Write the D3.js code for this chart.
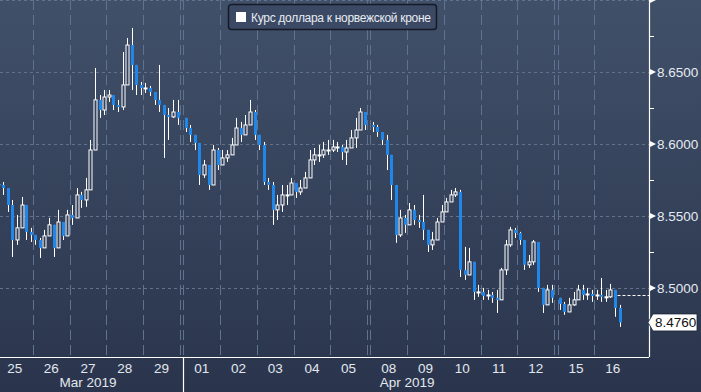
<!DOCTYPE html>
<html><head><meta charset="utf-8">
<script src="https://cdn.jsdelivr.net/npm/d3@7"></script>
<style>html,body{margin:0;padding:0;background:#2c3851;}svg{display:block;}</style>
</head><body>
<svg id="chart" width="701" height="392"></svg>
<script>
// ---------- data ----------
const dayLabels = ["25","26","27","28","29","01","02","03","04","05","08","09","10","11","12","15","16"];
const dayDates  = ["2019-03-25","2019-03-26","2019-03-27","2019-03-28","2019-03-29","2019-04-01","2019-04-02","2019-04-03","2019-04-04","2019-04-05","2019-04-08","2019-04-09","2019-04-10","2019-04-11","2019-04-12","2019-04-15","2019-04-16"];
const monthLabels = ["Mar 2019","Apr 2019"];
const seriesName = "Курс доллара к норвежской кроне";
const barsPerDay = 8;
const firstOpen = 8.5722;
const close = [
 8.5715,8.5694,8.5576,8.5333,8.5417,8.5576,8.5389,8.5368,
 8.5333,8.5278,8.5361,8.5438,8.5278,8.5458,8.5361,8.5507,
 8.5486,8.5646,8.5611,8.5681,8.5958,8.6306,8.6236,8.6326,
 8.6340,8.6271,8.6257,8.6410,8.6687,8.6549,8.6410,8.6389,
 8.6389,8.6361,8.6306,8.6271,8.6201,8.6188,8.6222,8.6181,
 8.6111,8.6063,8.6007,8.5785,8.5854,8.5715,8.5958,8.5854,
 8.5903,8.5924,8.5993,8.6111,8.6063,8.6132,8.6222,8.6063,
 8.5993,8.5736,8.5715,8.5542,8.5576,8.5646,8.5646,8.5729,
 8.5667,8.5694,8.5764,8.5889,8.5924,8.5924,8.5958,8.5958,
 8.5979,8.5979,8.5944,8.5972,8.6042,8.6097,8.6222,8.6132,
 8.6118,8.6083,8.6028,8.5924,8.5715,8.5368,8.5486,8.5438,
 8.5542,8.5472,8.5458,8.5403,8.5299,8.5333,8.5458,8.5528,
 8.5597,8.5646,8.5667,8.5125,8.5090,8.5181,8.4972,8.4972,
 8.4944,8.4951,8.4931,8.4917,8.5125,8.5299,8.5403,8.5382,
 8.5333,8.5160,8.5181,8.5319,8.5000,8.4882,8.4986,8.4931,
 8.4889,8.4833,8.4882,8.4917,8.4986,8.4951,8.4958,8.4944,
 8.4951,8.4938,8.4938,8.4986,8.4861,8.4760
];
const high = [
 8.5750,8.5736,8.5681,8.5611,8.5507,8.5632,8.5458,8.5417,
 8.5368,8.5347,8.5403,8.5486,8.5417,8.5542,8.5438,8.5542,
 8.5576,8.5694,8.5667,8.5764,8.6028,8.6528,8.6340,8.6375,
 8.6375,8.6326,8.6306,8.6639,8.6736,8.6806,8.6500,8.6431,
 8.6424,8.6403,8.6361,8.6549,8.6271,8.6250,8.6306,8.6306,
 8.6153,8.6132,8.6063,8.5972,8.5889,8.5819,8.5993,8.5972,
 8.5958,8.5958,8.6042,8.6181,8.6153,8.6201,8.6306,8.6236,
 8.6028,8.6014,8.5764,8.5736,8.5646,8.5715,8.5715,8.5764,
 8.5729,8.5750,8.5806,8.5958,8.5972,8.5993,8.6014,8.6028,
 8.6028,8.6014,8.5993,8.6028,8.6097,8.6181,8.6250,8.6201,
 8.6153,8.6132,8.6076,8.6063,8.5819,8.5507,8.5542,8.5507,
 8.5590,8.5576,8.5507,8.5646,8.5368,8.5389,8.5486,8.5576,
 8.5625,8.5681,8.5694,8.5681,8.5285,8.5278,8.5090,8.5021,
 8.5000,8.4986,8.4972,8.4986,8.5139,8.5333,8.5424,8.5417,
 8.5389,8.5333,8.5229,8.5333,8.5299,8.4986,8.5021,8.5021,
 8.4931,8.4903,8.4931,8.4972,8.5021,8.5021,8.5000,8.4986,
 8.4986,8.5069,8.4986,8.5028,8.4917,8.4882
];
const low = [
 8.5681,8.5646,8.5528,8.5215,8.5299,8.5417,8.5333,8.5319,
 8.5299,8.5208,8.5299,8.5368,8.5215,8.5299,8.5333,8.5389,
 8.5438,8.5542,8.5556,8.5563,8.5785,8.6063,8.6181,8.6201,
 8.6292,8.6236,8.6222,8.6236,8.6514,8.6375,8.6340,8.6340,
 8.6354,8.6333,8.6271,8.6222,8.5903,8.6028,8.6181,8.6132,
 8.6083,8.6014,8.5958,8.5715,8.5764,8.5681,8.5806,8.5819,
 8.5854,8.5875,8.5924,8.6028,8.6014,8.6063,8.6167,8.6028,
 8.5958,8.5715,8.5681,8.5438,8.5472,8.5528,8.5576,8.5667,
 8.5625,8.5646,8.5715,8.5833,8.5854,8.5875,8.5903,8.5924,
 8.5944,8.5944,8.5889,8.5854,8.5993,8.5972,8.6167,8.6097,
 8.6083,8.6049,8.5993,8.5819,8.5611,8.5313,8.5354,8.5382,
 8.5486,8.5438,8.5417,8.5333,8.5250,8.5264,8.5389,8.5486,
 8.5556,8.5611,8.5632,8.5076,8.5056,8.5090,8.4917,8.4938,
 8.4917,8.4917,8.4896,8.4826,8.4972,8.5090,8.5285,8.5347,
 8.5299,8.5125,8.5139,8.5160,8.4972,8.4826,8.4882,8.4896,
 8.4847,8.4813,8.4833,8.4875,8.4944,8.4917,8.4917,8.4903,
 8.4917,8.4903,8.4903,8.4931,8.4799,8.4729
];
const refLevel = 8.4951;
const majorTicks = [8.50, 8.55, 8.60, 8.65, 8.70];
const minorTicks = [8.475, 8.525, 8.575, 8.625, 8.675];

// ---------- layout ----------
const W = 701, H = 392;
const plotRight = 649, plotBottom = 357;
const weekendGap = 0.095;

const svg = d3.select("#chart");
const defs = svg.append("defs");
const grad = defs.append("linearGradient").attr("id","bg").attr("x1",0).attr("y1",0).attr("x2",0).attr("y2",1);
grad.append("stop").attr("offset","0%").attr("stop-color","#415069");
grad.append("stop").attr("offset","100%").attr("stop-color","#2a354d");
svg.append("rect").attr("width",W).attr("height",H).attr("fill","url(#bg)");

// day positions (with weekend gaps)
const parse = d3.timeParse("%Y-%m-%d");
const dObjs = dayDates.map(parse);
const dayStart = [];
let gaps = 0;
dObjs.forEach((d,i)=>{
  if(i>0 && d3.timeDay.count(dObjs[i-1], d) > 1) gaps++;
  dayStart.push(i + gaps*weekendGap);
});
const totalSpan = dayStart[dayStart.length-1] + 1;
const x = d3.scaleLinear().domain([0, totalSpan]).range([-3.7, -3.7 + totalSpan*36.72]);
const y = d3.scaleLinear().domain([8.452, 8.70]).range([plotBottom, 0]);

// bars
const bars = close.map((c,i)=>{
  const di = Math.floor(i/barsPerDay), k = i % barsPerDay;
  const o = i===0 ? firstOpen : close[i-1];
  return {pos: dayStart[di] + (k+0.5)/barsPerDay, o, c,
          h: Math.max(high[i], o, c), l: Math.min(low[i], o, c)};
});

// grid
const grid = svg.append("g");
majorTicks.forEach(v=>{
  grid.append("line").attr("x1",0).attr("x2",plotRight).attr("y1",Math.round(y(v))+0.5).attr("y2",Math.round(y(v))+0.5)
    .attr("stroke","#62728d").attr("stroke-width",1).attr("stroke-dasharray","3,3");
});
const vLines = [];
dayStart.forEach((s,i)=>{
  if(i>0) vLines.push(s);
  if(i<dayStart.length-1 && dayStart[i+1]-s > 1.001) vLines.push(s+1);
});
vLines.forEach(p=>{
  const xx = Math.round(x(p))+0.5;
  grid.append("line").attr("x1",xx).attr("x2",xx).attr("y1",0).attr("y2",plotBottom)
    .attr("stroke","#5f7391").attr("stroke-width",1).attr("stroke-dasharray","10,5");
});

// candles
const cg = svg.append("g");
const bw = 3;
bars.forEach(b=>{
  const cx = Math.round(x(b.pos)) + 0.5;
  cg.append("line").attr("x1",cx).attr("x2",cx).attr("y1",y(b.h)).attr("y2",y(b.l))
    .attr("stroke","#ffffff").attr("stroke-width",1);
  const top = y(Math.max(b.o,b.c)), bot = y(Math.min(b.o,b.c));
  if(b.c >= b.o){
    cg.append("rect").attr("x",cx-1.5).attr("y",top).attr("width",bw).attr("height",Math.max(1,bot-top))
      .attr("fill","#34425c").attr("stroke","#ffffff").attr("stroke-width",1);
  } else {
    cg.append("rect").attr("x",cx-1.5).attr("y",top).attr("width",bw).attr("height",Math.max(1.5,bot-top))
      .attr("fill","#1f86ea");
  }
});

// reference dashed level
const lastX = x(bars[bars.length-1].pos);
svg.append("line").attr("x1",lastX-2).attr("x2",plotRight).attr("y1",Math.round(y(refLevel))+0.5).attr("y2",Math.round(y(refLevel))+0.5)
  .attr("stroke","#ffffff").attr("stroke-width",1).attr("stroke-dasharray","3,2");

// axes lines
svg.append("line").attr("x1",0).attr("x2",plotRight).attr("y1",plotBottom+0.5).attr("y2",plotBottom+0.5).attr("stroke","#fff").attr("stroke-width",1.2);
svg.append("line").attr("x1",plotRight+0.5).attr("x2",plotRight+0.5).attr("y1",0).attr("y2",plotBottom).attr("stroke","#fff").attr("stroke-width",1.2);

// right axis (via d3 axis for labels)
const yAxis = d3.axisRight(y).tickValues(majorTicks.filter(v=>y(v)>8)).tickSize(0).tickPadding(8).tickFormat(d3.format(".4f"));
const ya = svg.append("g").attr("transform",`translate(${plotRight},0)`).call(yAxis);
ya.select(".domain").remove();
ya.selectAll("text").attr("fill","#e6ebf2").attr("font-family","'Liberation Sans', Arial, sans-serif").attr("font-size","13.5px");
majorTicks.forEach(v=>{
  const yy = y(v);
  svg.append("path").attr("d",`M${plotRight},${yy-3.5}L${plotRight+7},${yy}L${plotRight},${yy+3.5}Z`).attr("fill","#fff");
});
minorTicks.forEach(v=>{
  svg.append("line").attr("x1",plotRight).attr("x2",plotRight+5).attr("y1",Math.round(y(v))+0.5).attr("y2",Math.round(y(v))+0.5).attr("stroke","#fff");
});

// last value tag
const lastV = close[close.length-1];
const ly = y(lastV);
svg.append("path").attr("d",`M${plotRight-1},${ly}L${plotRight+4},${ly-8.5}H697V${ly+8.5}H${plotRight+4}Z`)
  .attr("fill","#ffffff").attr("stroke","#1b2233").attr("stroke-width",0.8);
svg.append("text").attr("x",plotRight+6).attr("y",ly+5).text(d3.format(".4f")(lastV))
  .attr("fill","#111").attr("font-family","'Liberation Sans', Arial, sans-serif").attr("font-size","13.5px");

// bottom axis labels
const xl = svg.append("g").attr("font-family","'Liberation Sans', Arial, sans-serif").attr("fill","#e3e8ef");
dayLabels.forEach((lab,i)=>{
  xl.append("text").attr("x",x(dayStart[i]+0.5)).attr("y",373).attr("text-anchor","middle").attr("font-size","13.5px").text(lab);
});
const monthIdx = d3.groups(dObjs.map((d,i)=>({m:d.getMonth(),i})), d=>d.m);
monthIdx.forEach(([m,arr],j)=>{
  const a = arr[0].i, b = arr[arr.length-1].i;
  const cx = (x(dayStart[a]) + x(dayStart[b]+1))/2;
  xl.append("text").attr("x",cx).attr("y",387).attr("text-anchor","middle").attr("font-size","13.5px").text(monthLabels[j]);
  if(j>0){
    const sx = Math.round(x(dayStart[a]))+0.5;
    svg.append("line").attr("x1",sx).attr("x2",sx).attr("y1",plotBottom).attr("y2",H).attr("stroke","#fff").attr("stroke-width",1.2);
  }
});

// legend
const lg = svg.append("g");
lg.append("rect").attr("x",228.5).attr("y",4.5).attr("width",208).attr("height",25).attr("rx",3)
  .attr("fill","#3b4965").attr("stroke","#141a26").attr("stroke-width",1.5);
lg.append("rect").attr("x",236).attr("y",12).attr("width",10).attr("height",10).attr("fill","#fff");
lg.append("text").attr("x",251).attr("y",21.5).text(seriesName)
  .attr("fill","#e8ecf2").attr("font-family","'Liberation Sans', Arial, sans-serif").attr("font-size","12px")
  .attr("textLength",180).attr("lengthAdjust","spacing");
</script>
</body></html>
